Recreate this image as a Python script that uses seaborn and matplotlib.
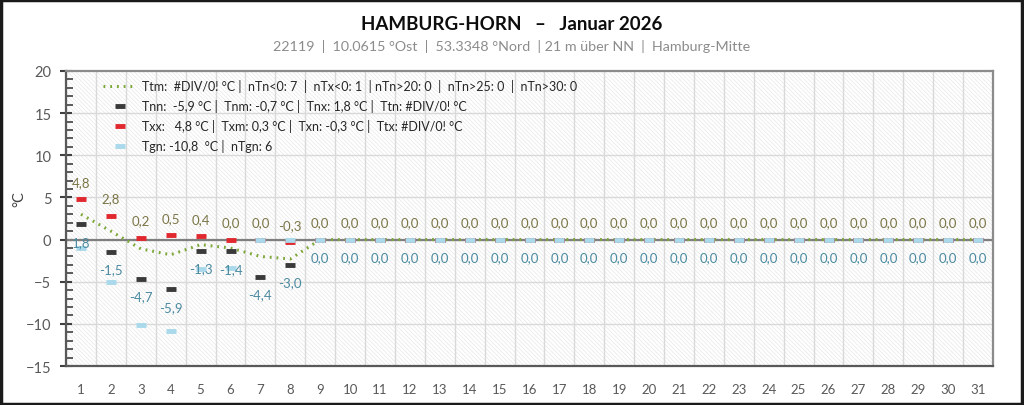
import numpy as np
import pandas as pd
import matplotlib
matplotlib.use("Agg")
import matplotlib.pyplot as plt
from matplotlib.lines import Line2D
from matplotlib.patches import Rectangle
from matplotlib.ticker import MultipleLocator
import seaborn as sns

# ---- data ----
days = [1, 2, 3, 4, 5, 6, 7, 8, 9, 10, 11, 12, 13, 14, 15, 16,
        17, 18, 19, 20, 21, 22, 23, 24, 25, 26, 27, 28, 29, 30, 31]
tx = [4.8, 2.8, 0.2, 0.5, 0.4, 0.0, 0.0, -0.3, 0.0, 0.0, 0.0, 0.0, 0.0, 0.0, 0.0, 0.0,
      0.0, 0.0, 0.0, 0.0, 0.0, 0.0, 0.0, 0.0, 0.0, 0.0, 0.0, 0.0, 0.0, 0.0, 0.0]
tn = [1.8, -1.5, -4.7, -5.9, -1.3, -1.4, -4.4, -3.0, 0.0, 0.0, 0.0, 0.0, 0.0, 0.0, 0.0, 0.0,
      0.0, 0.0, 0.0, 0.0, 0.0, 0.0, 0.0, 0.0, 0.0, 0.0, 0.0, 0.0, 0.0, 0.0, 0.0]
tg = [-1.0, -5.0, -10.1, -10.8, -3.5, -3.4, 0.0, 0.0, 0.0, 0.0, 0.0, 0.0, 0.0, 0.0, 0.0, 0.0,
      0.0, 0.0, 0.0, 0.0, 0.0, 0.0, 0.0, 0.0, 0.0, 0.0, 0.0, 0.0, 0.0, 0.0, 0.0]
ttm = [3.0, 1.0, -1.1, -1.8, -0.6, -1.0, -2.0, -2.3, 0.0, 0.0, 0.0, 0.0, 0.0, 0.0, 0.0, 0.0,
       0.0, 0.0, 0.0, 0.0, 0.0, 0.0, 0.0, 0.0, 0.0, 0.0, 0.0, 0.0, 0.0, 0.0, 0.0]

legend_labels = [
    "Ttm:  #DIV/0! °C |  nTn<0: 7  |  nTx<0: 1  | nTn>20: 0  |  nTn>25: 0  |  nTn>30: 0",
    "Tnn:  -5,9 °C |  Tnm: -0,7 °C |  Tnx: 1,8 °C |  Ttn: #DIV/0! °C",
    "Txx:   4,8 °C |  Txm: 0,3 °C |  Txn: -0,3 °C |  Ttx: #DIV/0! °C",
    "Tgn: -10,8  °C |  nTgn: 6",
]
title = "HAMBURG-HORN   –   Januar 2026"
subtitle = "22119  |  10.0615 °Ost  |  53.3348 °Nord  | 21 m über NN  |  Hamburg-Mitte"

df = pd.DataFrame({"day": days, "tx": tx, "tn": tn, "tg": tg, "ttm": ttm})

# ---- style ----
sns.set_theme(style="white")
plt.rcParams["font.family"] = ["Lato", "DejaVu Sans"]
plt.rcParams["hatch.linewidth"] = 0.5

c_red = "#e0282e"
c_black = "#3a3a3a"
c_blue = "#a9d9ea"
c_green = "#7ea83a"
c_txlab = "#7b7547"
c_tnlab = "#4b8aa0"
c_grid = "#d9d9d9"

fig = plt.figure(figsize=(10.24, 4.06), dpi=100)
ax = fig.add_axes([0.0645, 0.096, 0.9052, 0.7267])

ax.patch.set_facecolor("white")
ax.patch.set_hatch("\\\\\\\\\\\\\\\\")
ax.patch.set_edgecolor("#e8e8e8")

# grid
for d in days + [0]:
    ax.axvline(d + 0.5, color=c_grid, lw=1, zorder=0.5)
for yv in range(-10, 20, 5):
    ax.axhline(yv, color=c_grid, lw=1, zorder=0.5)
ax.axhline(0, color="#7f7f7f", lw=1.6, zorder=1)

# mean line
sns.lineplot(data=df, x="day", y="ttm", ax=ax, color=c_green, lw=2.2,
             linestyle=(0, (0.6, 1.6)), zorder=2, legend=False)

# dash markers
for col, c in [("tn", c_black), ("tx", c_red), ("tg", c_blue)]:
    sns.scatterplot(data=df, x="day", y=col, ax=ax, marker="_", s=45,
                    linewidth=3.5, color=c, zorder=3, legend=False)

# data labels
for d, v in zip(days, tx):
    ax.annotate(f"{v:.1f}".replace(".", ","), (d, v), xytext=(0, 12.5),
                textcoords="offset points", ha="center", va="center",
                fontsize=9.5, color=c_txlab, zorder=4)
for d, v in zip(days, tn):
    ax.annotate(f"{v:.1f}".replace(".", ","), (d, v), xytext=(0, -12.5),
                textcoords="offset points", ha="center", va="center",
                fontsize=9.5, color=c_tnlab, zorder=4)

# axes
ax.set_xlim(0.5, 31.5)
ax.set_ylim(-15, 20)
ax.set_xticks(days)
ax.set_xticklabels([str(d) for d in days])
ax.yaxis.set_major_locator(MultipleLocator(5))
ax.yaxis.set_minor_locator(MultipleLocator(1))
ax.tick_params(axis="x", length=0, pad=12, labelsize=9.5, labelcolor="#595959")
ax.tick_params(axis="y", which="major", direction="inout", length=9, width=1.5,
               color="#404040", left=True, labelsize=10.5, labelcolor="#595959", pad=6)
ax.tick_params(axis="y", which="minor", direction="in", length=5, width=1.2,
               color="#404040", left=True)
ax.set_xlabel("")
ax.set_ylabel("")
fig.text(0.019, 0.51, "°C", rotation=90, ha="center", va="center",
         fontsize=10.5, color="#404040")

for side in ["left", "bottom"]:
    ax.spines[side].set_color("#595959")
    ax.spines[side].set_linewidth(1.6)
for side in ["top", "right"]:
    ax.spines[side].set_color("#8c8c8c")
    ax.spines[side].set_linewidth(1.6)

# legend
handles = [
    Line2D([], [], color=c_green, lw=2.2, linestyle=(0, (0.6, 1.6))),
    Line2D([], [], color=c_black, lw=0, marker="_", markersize=7, mew=3.5),
    Line2D([], [], color=c_red, lw=0, marker="_", markersize=7, mew=3.5),
    Line2D([], [], color=c_blue, lw=0, marker="_", markersize=7, mew=3.5),
]
ax.legend(handles, legend_labels, loc="upper left", bbox_to_anchor=(0.028, 1.01),
          frameon=False, fontsize=9, handlelength=2.6, handletextpad=0.5,
          labelspacing=0.55, labelcolor="#262626")

fig.text(0.5, 0.94, title, ha="center", va="center", fontsize=13.5,
         fontweight="bold", color="#0d0d0d")
fig.text(0.5, 0.885, subtitle, ha="center", va="center", fontsize=10.3,
         color="#8c8c8c")

fig.add_artist(Rectangle((0.001, 0.002), 0.997, 0.995, transform=fig.transFigure,
                         fill=False, ec="#1a1a1a", lw=2.5))

fig.savefig("out.png", dpi=100)
